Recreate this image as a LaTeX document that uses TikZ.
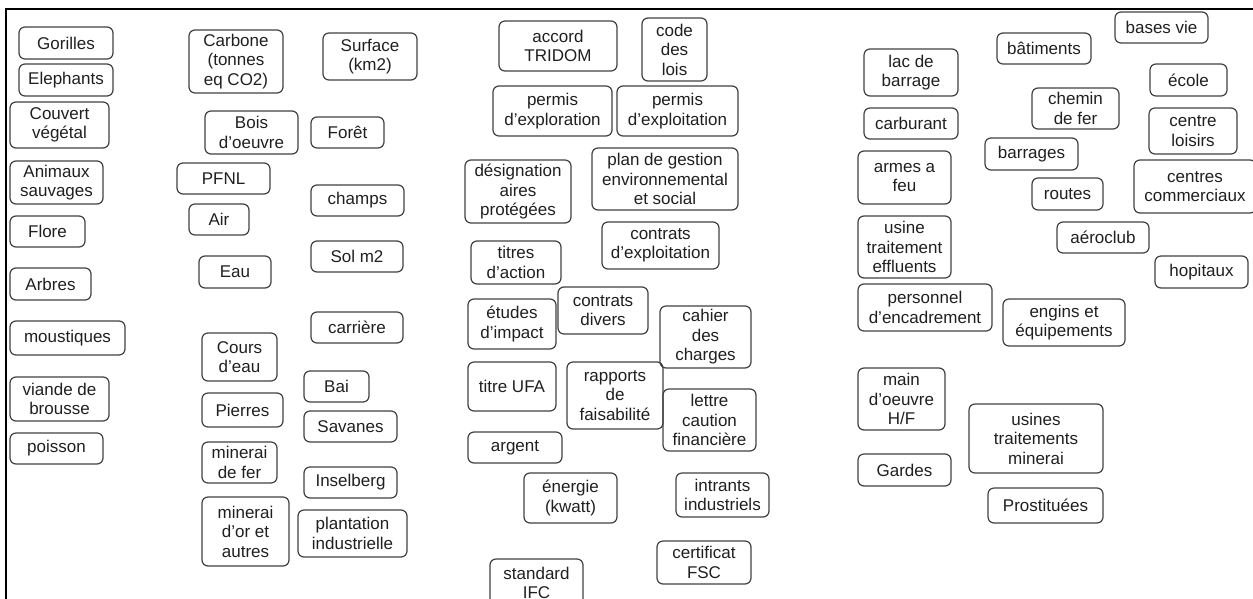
\documentclass[tikz,border=0pt]{standalone}
\usepackage{fontspec}
\setmainfont{Liberation Sans}
\begin{document}
\begin{tikzpicture}[x=1pt,y=-1pt,
  box/.style={draw=black!75,line width=1.2pt,rounded corners=6pt,inner sep=0pt,
    align=center,text=black!88,font=\fontsize{17pt}{19.5pt}\selectfont},
  frame/.style={draw=black,line cap=rect}]
% page area
\useasboundingbox (0,0) rectangle (1253,598);
% frame along the top and left edges
\coordinate (fl) at (6,598);
\coordinate (fc) at (6,8.8);
\coordinate (fr) at (1253,8.8);
\draw[frame,line width=2.2pt] (fl) -- (fc);
\draw[frame,line width=2.6pt] (fc) -- (fr);
% one rounded box from its corners: name, x1, y1, x2, y2, text
\newcommand\bx[6]{%
  \pgfmathsetmacro\bxw{#4-#2}\pgfmathsetmacro\bxh{#5-#3}%
  \pgfmathsetmacro\bxcx{(#2+#4)/2}\pgfmathsetmacro\bxcy{(#3+#5)/2}%
  \node[box,minimum width=\bxw pt,minimum height=\bxh pt] (#1) at (\bxcx,\bxcy) {#6};}
% column 1
\bx{gorilles}{19}{27}{113}{59}{Gorilles}
\bx{elephants}{19}{64}{113}{96}{Elephants}
\bx{couvert}{10}{102}{109}{148}{Couvert\\végétal}
\bx{animaux}{10}{161}{103}{204}{Animaux\\sauvages}
\bx{flore}{10}{216}{85}{247}{Flore}
\bx{arbres}{10}{268}{91}{300}{Arbres}
\bx{moustiques}{10}{321}{125}{355}{moustiques}
\bx{viande}{10}{377}{109}{421}{viande de\\brousse}
\bx{poisson}{10}{433}{103}{464}{poisson}
% column 2
\bx{carbone}{189}{30}{283}{93}{Carbone\\(tonnes\\eq CO2)}
\bx{bois}{205}{111}{298}{154}{Bois\\d’oeuvre}
\bx{pfnl}{177}{163}{270}{194}{PFNL}
\bx{air}{189}{204}{249}{235}{Air}
\bx{eau}{199}{256}{271}{288}{Eau}
\bx{cours}{202}{333}{277}{381}{Cours\\d’eau}
\bx{pierres}{202}{393}{283}{427}{Pierres}
\bx{fer}{202}{442}{277}{483}{minerai\\de fer}
\bx{or}{202}{497}{289}{566}{minerai\\d’or et\\autres}
% column 3
\bx{surface}{323}{33}{417}{80}{Surface\\(km2)}
\bx{foret}{311}{117}{384}{148}{Forêt}
\bx{champs}{311}{185}{404}{216}{champs}
\bx{sol}{311}{241}{403}{272}{Sol m2}
\bx{carriere}{311}{312}{403}{343}{carrière}
\bx{bai}{304}{371}{369}{402}{Bai}
\bx{savanes}{304}{411}{397}{442}{Savanes}
\bx{inselberg}{304}{467}{397}{498}{Inselberg}
\bx{plantation}{298}{510}{407}{557}{plantation\\industrielle}
% column 4
\bx{tridom}{499}{21}{617}{71}{accord\\TRIDOM}
\bx{code}{642}{18}{707}{81}{code\\des\\lois}
\bx{pexplor}{493}{86}{612}{136}{permis\\d’exploration}
\bx{pexploit}{617}{86}{738}{136}{permis\\d’exploitation}
\bx{designation}{465}{160}{571}{223}{désignation\\aires\\protégées}
\bx{plan}{592}{148}{738}{210}{plan de gestion\\environnemental\\et social}
\bx{cexploit}{602}{222}{719}{269}{contrats\\d’exploitation}
\bx{titres}{471}{241}{561}{284}{titres\\d’action}
\bx{divers}{558}{287}{648}{334}{contrats\\divers}
\bx{etudes}{468}{299}{556}{349}{études\\d’impact}
\bx{cahier}{660}{306}{751}{368}{cahier\\des\\charges}
\bx{ufa}{468}{362}{556}{411}{titre UFA}
\bx{rapports}{567}{362}{663}{429}{rapports\\de\\faisabilité}
\bx{lettre}{663}{389}{756}{451}{lettre\\caution\\financière}
\bx{argent}{468}{432}{562}{463}{argent}
\bx{energie}{524}{473}{617}{523}{énergie\\(kwatt)}
\bx{intrants}{676}{473}{769}{517}{intrants\\industriels}
\bx{fsc}{657}{541}{751}{584}{certificat\\FSC}
\bx{ifc}{490}{559}{583}{607}{standard\\IFC}
% column 5
\bx{lac}{864}{49}{958}{96}{lac de\\barrage}
\bx{carburant}{864}{108}{958}{139}{carburant}
\bx{armes}{858}{151}{951}{204}{armes a\\feu}
\bx{effluents}{858}{216}{951}{278}{usine\\traitement\\effluents}
\bx{personnel}{858}{284}{992}{331}{personnel\\d’encadrement}
\bx{main}{858}{368}{945}{430}{main\\d’oeuvre\\H/F}
\bx{gardes}{858}{454}{951}{486}{Gardes}
% column 6
\bx{batiments}{997}{33}{1091}{64}{bâtiments}
\bx{chemin}{1032}{88}{1119}{129}{chemin\\de fer}
\bx{barrages}{985}{138}{1078}{170}{barrages}
\bx{routes}{1032}{178}{1103}{210}{routes}
\bx{aeroclub}{1057}{222}{1149}{253}{aéroclub}
\bx{engins}{1003}{299}{1125}{346}{engins et\\équipements}
\bx{usines}{969}{404}{1103}{473}{usines\\traitements\\minerai}
\bx{prostituees}{988}{488}{1103}{523}{Prostituées}
% column 7
\bx{bases}{1115}{12}{1208}{43}{bases vie}
\bx{ecole}{1150}{64}{1227}{96}{école}
\bx{loisirs}{1149}{108}{1237}{154}{centre\\loisirs}
\bx{commerciaux}{1134}{160}{1256}{213}{centres\\commerciaux}
\bx{hopitaux}{1155}{256}{1248}{288}{hopitaux}
\end{tikzpicture}
\end{document}
